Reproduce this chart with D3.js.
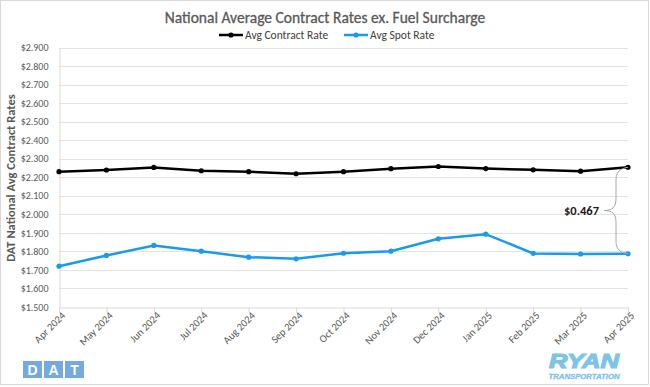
<!DOCTYPE html>
<html>
<head>
<meta charset="utf-8">
<script src="https://cdn.jsdelivr.net/npm/d3@7"></script>
<style>
  body { margin: 0; background: #fff; }
</style>
</head>
<body>
<script>
// chart data
const months = ["Apr 2024", "May 2024", "Jun 2024", "Jul 2024", "Aug 2024", "Sep 2024", "Oct 2024",
  "Nov 2024", "Dec 2024", "Jan 2025", "Feb 2025", "Mar 2025", "Apr 2025"];
const contractRate = [2.230, 2.239, 2.253, 2.235, 2.230, 2.219, 2.230, 2.246, 2.258, 2.247, 2.240, 2.233, 2.254];
const spotRate = [1.720, 1.778, 1.832, 1.801, 1.769, 1.760, 1.790, 1.801, 1.868, 1.893, 1.789, 1.786, 1.787];
const yTicks = [1.5, 1.6, 1.7, 1.8, 1.9, 2.0, 2.1, 2.2, 2.3, 2.4, 2.5, 2.6, 2.7, 2.8, 2.9];
const gapLabel = "$0.467";

let width = 650;
let height = 387;
let grey = "#595959";
let mainFont = "Carlito, 'Open Sans', 'Noto Sans', sans-serif";
let logoFont = "'Liberation Sans', Arial, sans-serif";

let svg = d3.select("body").append("svg")
  .attr("width", width)
  .attr("height", height)
  .style("font-family", mainFont);

// outer border
svg.append("rect")
  .attr("x", 0.5).attr("y", 0.5)
  .attr("width", 648).attr("height", 384)
  .attr("fill", "none").attr("stroke", "#d9d9d9");

let x = d3.scalePoint().domain(months).range([59, 628]);
let y = d3.scaleLinear().domain([1.5, 2.9]).range([307, 47.5]);

// gridlines
svg.append("g").selectAll("line")
  .data(yTicks.slice(1))
  .enter().append("line")
  .attr("x1", 59).attr("x2", 628)
  .attr("y1", d => Math.round(y(d)) + 0.5).attr("y2", d => Math.round(y(d)) + 0.5)
  .attr("stroke", "#e3e3e3");

// y axis
let yAxis = svg.append("g")
  .attr("transform", "translate(59.5,0)")
  .call(d3.axisLeft(y).tickValues(yTicks).tickSize(0).tickPadding(11)
    .tickFormat(d => "$" + d3.format(".3f")(d)));
yAxis.select(".domain").attr("stroke", "#d9d9d9");
yAxis.selectAll("text").attr("fill", grey).style("font-family", mainFont).style("font-size", "10px");

// x axis
let xAxis = svg.append("g")
  .attr("transform", "translate(0,307.5)")
  .call(d3.axisBottom(x).tickSize(5).tickSizeOuter(0));
xAxis.select(".domain").attr("stroke", "#d9d9d9");
xAxis.selectAll(".tick line").attr("stroke", "#d9d9d9");
xAxis.selectAll("text")
  .attr("fill", grey).style("font-family", mainFont).style("font-size", "10.5px")
  .attr("text-anchor", "end")
  .attr("dy", "0.35em")
  .attr("transform", "translate(4,6) rotate(-45)")
  .attr("x", 0).attr("y", 0);

// y axis title
svg.append("text")
  .attr("transform", "translate(10.5,178) rotate(-90)")
  .attr("text-anchor", "middle")
  .attr("dominant-baseline", "central")
  .style("font-size", "12.5px").attr("font-weight", "bold")
  .attr("fill", grey)
  .text("DAT National Avg Contract Rates");

// title
svg.append("text")
  .attr("x", 325).attr("y", 23)
  .attr("text-anchor", "middle")
  .style("font-size", "15.5px")
  .attr("fill", grey)
  .attr("stroke", grey).attr("stroke-width", 0.3)
  .text("National Average Contract Rates ex. Fuel Surcharge");

// series lines
let series = [
  { name: "Avg Contract Rate", values: contractRate, color: "#000000" },
  { name: "Avg Spot Rate", values: spotRate, color: "#1a9aeb" }
];

let line = d3.line()
  .x((d, i) => x(months[i]))
  .y(d => y(d));

series.forEach(s => {
  svg.append("path")
    .datum(s.values)
    .attr("fill", "none")
    .attr("stroke", s.color)
    .attr("stroke-width", 2.5)
    .attr("d", line);
  svg.append("g").selectAll("circle")
    .data(s.values)
    .enter().append("circle")
    .attr("cx", (d, i) => x(months[i]))
    .attr("cy", d => y(d))
    .attr("r", 2.6)
    .attr("fill", s.color);
});

// legend
let legend = svg.append("g");
let legendX = [219, 344];
series.forEach((s, i) => {
  let g = legend.append("g").attr("transform", "translate(" + legendX[i] + ",35)");
  g.append("line").attr("x1", 0).attr("x2", 24).attr("stroke", s.color).attr("stroke-width", 2.5);
  g.append("circle").attr("cx", 12).attr("r", 2.6).attr("fill", s.color);
  g.append("text").attr("x", 26).attr("dy", "0.35em")
    .style("font-size", "11.5px").attr("fill", "#404040").text(s.name);
});

// brace showing the gap at the last month
let last = months.length - 1;
let bx = x(months[last]);
let yTop = y(contractRate[last]);
let yBot = y(spotRate[last]);
let yMid = (yTop + yBot) / 2;
let braceX = bx - 12;
let tipX = bx - 24;
let brace = d3.path();
brace.moveTo(bx, yTop);
brace.bezierCurveTo(braceX, yTop + 2, braceX, yTop + 8, braceX, yTop + 16);
brace.lineTo(braceX, yMid - 12);
brace.bezierCurveTo(braceX, yMid - 3, braceX - 4, yMid, tipX, yMid);
brace.bezierCurveTo(braceX - 4, yMid, braceX, yMid + 3, braceX, yMid + 12);
brace.lineTo(braceX, yBot - 16);
brace.bezierCurveTo(braceX, yBot - 8, braceX, yBot - 2, bx, yBot);
svg.append("path")
  .attr("d", brace.toString())
  .attr("fill", "none")
  .attr("stroke", "#a6a6a6")
  .attr("stroke-width", 1);

svg.append("text")
  .attr("x", tipX - 5).attr("y", yMid)
  .attr("dy", "0.35em")
  .attr("text-anchor", "end")
  .style("font-size", "12.5px").attr("font-weight", "bold")
  .attr("fill", "#1a1a1a")
  .text(gapLabel);

// DAT logo
let datLetters = ["D", "A", "T"];
let dat = svg.append("g").attr("transform", "translate(23,361)");
datLetters.forEach((l, i) => {
  dat.append("rect").attr("x", i * 21).attr("width", 19).attr("height", 17).attr("fill", "#76a9dd");
  dat.append("text").attr("x", i * 21 + 9.5).attr("y", 14)
    .attr("text-anchor", "middle").style("font-size", "14px").style("font-weight", "bold")
    .style("font-family", logoFont)
    .attr("fill", "#fff").text(l);
});

// RYAN logo
svg.append("text")
  .attr("x", 584).attr("y", 367.5)
  .attr("text-anchor", "middle")
  .style("font-size", "21px").style("font-weight", "bold").style("font-style", "italic")
  .style("font-family", logoFont)
  .attr("fill", "#7cc4e9")
  .attr("stroke", "#7cc4e9").attr("stroke-width", 1.2)
  .attr("textLength", 70).attr("lengthAdjust", "spacingAndGlyphs")
  .text("RYAN");
svg.append("text")
  .attr("x", 584).attr("y", 379)
  .attr("text-anchor", "middle")
  .style("font-size", "7px").style("font-weight", "bold").style("font-style", "italic")
  .style("font-family", logoFont)
  .attr("fill", "#7cc4e9")
  .attr("stroke", "#7cc4e9").attr("stroke-width", 0.3)
  .attr("textLength", 71).attr("lengthAdjust", "spacingAndGlyphs")
  .text("TRANSPORTATION");
</script>
</body>
</html>
